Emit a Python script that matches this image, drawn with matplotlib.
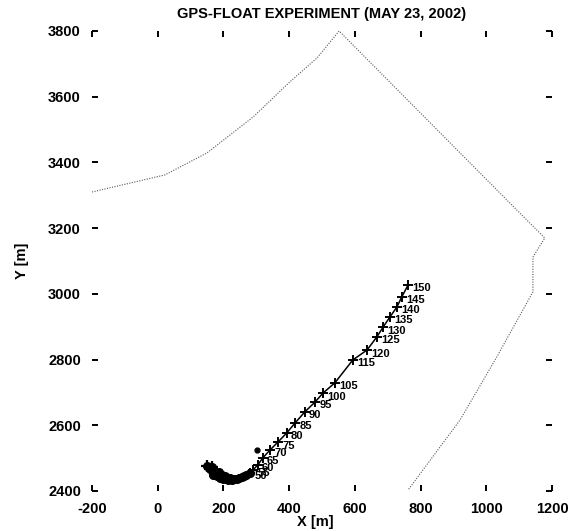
import matplotlib
matplotlib.use("Agg")
import matplotlib.pyplot as plt

# Shoreline / boundary (dotted)
boundary_x = [-200, 22, 150, 290, 402, 485, 552, 1093, 1178, 1142, 1142, 1032, 920, 762]
boundary_y = [3310, 3362, 3429, 3538, 3645, 3718, 3800, 3255, 3170, 3112, 3006, 2808, 2616, 2403]

# Float track, labelled every 5 time units (no fix at 110)
track_t = [50, 55, 60, 65, 70, 75, 80, 85, 90, 95,
           100, 105, 115, 120, 125, 130, 135, 140, 145, 150]
track_x = [281, 290, 305, 320, 342, 366, 393, 418, 448, 479,
           503, 539, 594, 637, 667, 686, 707, 728, 743, 762]
track_y = [2455, 2464, 2480, 2501, 2525, 2549, 2577, 2607, 2641, 2671,
           2698, 2729, 2799, 2829, 2869, 2899, 2930, 2960, 2991, 3027]

# Early fixes (t < 50) clustered near the launch point
early_x = [150, 158, 165, 170, 175, 168, 180, 185, 190, 195, 200, 205, 210, 215,
           220, 225, 232, 240, 248, 255, 262, 270, 281]
early_y = [2476, 2468, 2472, 2460, 2452, 2448, 2445, 2458, 2440, 2450, 2436, 2445,
           2438, 2432, 2440, 2434, 2436, 2438, 2440, 2444, 2446, 2450, 2455]

# Isolated stray fix
stray_x = [302]
stray_y = [2525]

x_ticks = [-200, 0, 200, 400, 600, 800, 1000, 1200]
y_ticks = [2400, 2600, 2800, 3000, 3200, 3400, 3600, 3800]

plt.rcParams['font.family'] = ['Liberation Sans', 'DejaVu Sans']
plt.rcParams['font.weight'] = 'bold'

fig = plt.figure(figsize=(5.75, 5.31), dpi=100)
ax = fig.add_axes([92 / 575, 1 - 491 / 531, 460 / 575, 460 / 531])

ax.plot(boundary_x, boundary_y, color='0.35', linestyle=(0, (1, 1.3)), linewidth=0.8)
ax.plot(early_x, early_y, color='black', linewidth=2.5, marker='o', markersize=5.5)
ax.plot(early_x[:3], early_y[:3], linestyle='none', color='black', marker='+',
        markersize=8, markeredgewidth=1.6)
ax.plot(track_x, track_y, color='black', linewidth=1.1, marker='+', markersize=6.5,
        markeredgewidth=1.4)
ax.plot(stray_x, stray_y, 'o', color='black', markersize=3.5)
for t, x, y in zip(track_t, track_x, track_y):
    ax.annotate(str(t), (x, y), xytext=(3.0, -2.5), textcoords='offset points',
                ha='left', va='center', fontsize=8, fontweight='bold', color='black')

ax.set_xlim(-200, 1200)
ax.set_ylim(2400, 3800)
ax.set_xticks(x_ticks)
ax.set_yticks(y_ticks)
ax.set_xticklabels([str(v) for v in x_ticks])
ax.set_yticklabels([str(v) for v in y_ticks])
for s in ax.spines.values():
    s.set_visible(False)
ax.tick_params(direction='in', length=4.5, width=1.4, top=True, right=True,
               labelsize=10.5, pad=8)
for lbl in ax.get_xticklabels() + ax.get_yticklabels():
    lbl.set_fontweight('bold')

ax.set_title('GPS-FLOAT EXPERIMENT (MAY 23, 2002)', fontsize=10.5, fontweight='bold', pad=9)
ax.set_xlabel('X [m]', fontsize=10.5, fontweight='bold', labelpad=0)
ax.xaxis.set_label_coords(0.485, -0.052)
ax.set_ylabel('Y [m]', fontsize=10.5, fontweight='bold', labelpad=14)

fig.savefig('out.png', dpi=100)
